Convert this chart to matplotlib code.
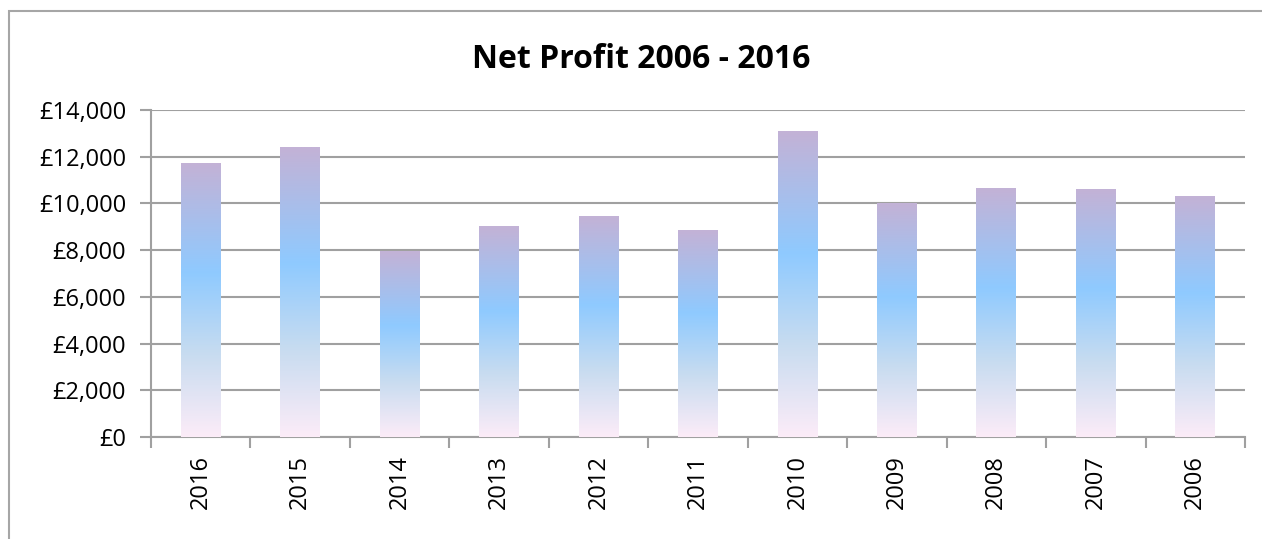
import matplotlib
matplotlib.use("Agg")
import matplotlib.pyplot as plt
import numpy as np
from matplotlib.colors import LinearSegmentedColormap
from matplotlib.patches import Rectangle

years = ["2016", "2015", "2014", "2013", "2012", "2011", "2010", "2009", "2008", "2007", "2006"]
profits = [11730, 12380, 7960, 9000, 9420, 8860, 13060, 10000, 10620, 10580, 10280]
yticks = [0, 2000, 4000, 6000, 8000, 10000, 12000, 14000]
ytick_labels = ["£0", "£2,000", "£4,000", "£6,000", "£8,000", "£10,000", "£12,000", "£14,000"]
title = "Net Profit 2006 - 2016"

plt.rcParams['font.family'] = ['Open Sans', 'DejaVu Sans']

W, H = 1262, 539
fig = plt.figure(figsize=(W / 100, H / 100), dpi=100)
ax = fig.add_axes([151 / W, 1 - 437 / H, (1245 - 151) / W, (437 - 110) / H])

# outer chart border
fig.patches.append(Rectangle((9 / W, -0.1), 1.2, 1 - 11 / H + 0.1, transform=fig.transFigure,
                             fill=False, edgecolor="#a6a6a6", linewidth=1.5))

x = np.arange(len(years))
bars = ax.bar(x, profits, width=0.4, color="none", edgecolor="none", zorder=3)

cmap = LinearSegmentedColormap.from_list(
    "grad", [(0.0, "#fcecf8"), (0.3, "#c8dcf0"), (0.6, "#8fcaff"), (1.0, "#c3b2d6")])
grad = np.linspace(0, 1, 256).reshape(-1, 1)
for b in bars:
    x0, w, h = b.get_x(), b.get_width(), b.get_height()
    ax.imshow(grad, extent=[x0, x0 + w, 0, h], origin="lower", cmap=cmap,
              aspect="auto", zorder=3, interpolation="bilinear")

ax.set_xlim(-0.5, len(years) - 0.5)
ax.set_ylim(0, 14000)
ax.set_yticks(yticks)
ax.set_yticklabels(ytick_labels, fontsize=17)
ax.yaxis.grid(True, color="#a0a0a0", linewidth=1.5, zorder=1)
ax.set_axisbelow(True)

ax.set_xticks(np.arange(-0.5, len(years), 1.0))
ax.set_xticklabels([])
ax.set_xticks(x, minor=True)
ax.set_xticklabels(years, minor=True, rotation=90, fontsize=17)
ax.tick_params(axis="x", which="minor", length=0, pad=13)
ax.tick_params(axis="x", which="major", length=8, color="#a0a0a0", width=1.5)
ax.tick_params(axis="y", length=8, color="#a0a0a0", width=1.5, pad=10)

for s in ["top", "right"]:
    ax.spines[s].set_visible(False)
for s in ["left", "bottom"]:
    ax.spines[s].set_color("#a0a0a0")
    ax.spines[s].set_linewidth(1.5)

fig.text(641 / W, 1 - 68 / H, title, ha="center", va="baseline", fontsize=23, fontweight="bold")

fig.savefig("out.png", dpi=100)
